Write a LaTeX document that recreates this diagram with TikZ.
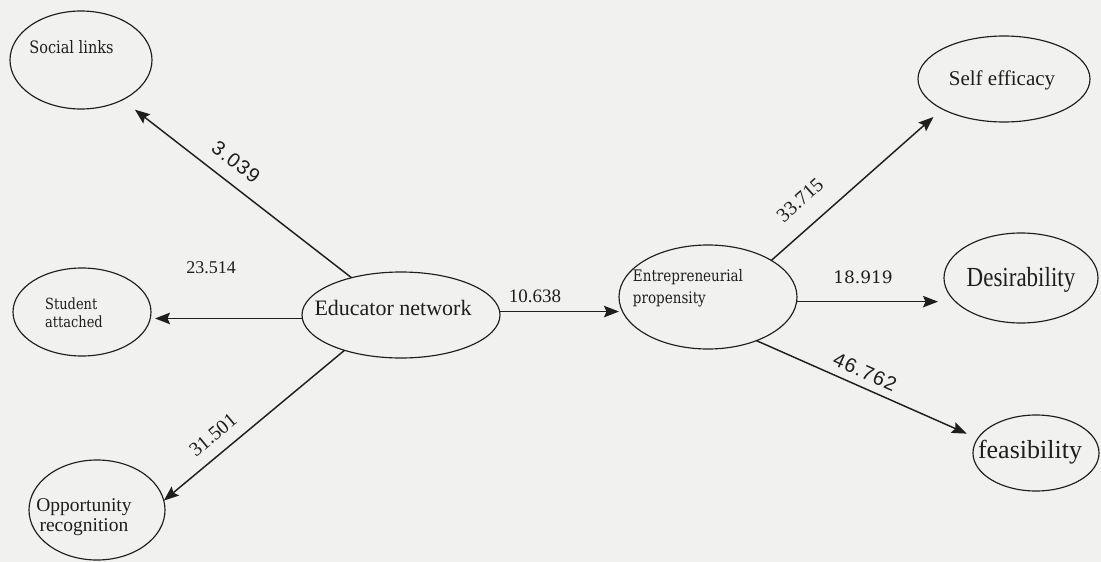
\documentclass[tikz,border=0pt]{standalone}
\usepackage{fontspec}
\usepackage{graphicx}
\setmainfont{Liberation Serif}
\newfontfamily\bookface{DejaVu Serif}
\newfontfamily\numsans[LetterSpace=6]{Liberation Sans}
\usetikzlibrary{shapes.geometric,arrows.meta}
\definecolor{paper}{HTML}{F1F1EF}
\definecolor{ink}{HTML}{1E1E1E}
\tikzset{
  construct/.style={draw=ink, line width=1.15pt, ellipse, inner sep=0pt, outer sep=0pt},
  caption/.style={text=ink, inner sep=0pt, align=center},
  coef/.style={text=ink, inner sep=0pt},
  link/.style={draw=ink, line width=1.45pt, -{Stealth[length=15pt,width=11.5pt,inset=2.5pt]}},
}
% taller lettering for the small construct names
\newcommand{\tallname}[1]{\scalebox{1}[1.18]{#1}}
\begin{document}
\begin{tikzpicture}[x=1pt,y=-1pt]
\path[fill=paper] (0,0) rectangle (1101,562);

% latent constructs
\node[construct, minimum width=142pt, minimum height=98pt]  (social)  at (81,60)   {};
\node[construct, minimum width=138pt, minimum height=88pt]  (student) at (82,312)  {};
\node[construct, minimum width=136pt, minimum height=100pt] (opp)     at (97,510)  {};
\node[construct, minimum width=198pt, minimum height=86pt]  (edu)     at (401,315) {};
\node[construct, minimum width=178pt, minimum height=104pt] (ent)     at (708,297) {};
\node[construct, minimum width=172pt, minimum height=86pt]  (self)    at (1004,79) {};
\node[construct, minimum width=154pt, minimum height=90pt]  (desir)   at (1021,278){};
\node[construct, minimum width=126pt, minimum height=76pt]  (feas)    at (1036,453){};

% construct names
\node[caption, font=\bookface\fontsize{14.5}{17}\selectfont] (socialtext) at (71.5,47) {\tallname{Social links}};
\node[caption, align=left, font=\bookface\fontsize{13}{18}\selectfont] (studenttext) at (74,313) {\tallname{Student}\\\tallname{attached}};
\node[caption, font=\fontsize{19.5}{20}\selectfont] (opptext) at (84,517) {Opportunity\\recognition};
\node[caption, font=\fontsize{22}{24}\selectfont] (edutext) at (393,308) {Educator network};
\node[caption, align=left, font=\bookface\fontsize{13.5}{22}\selectfont] (enttext) at (688,288) {\tallname{Entrepreneurial}\\\tallname{propensity}};
\node[caption, font=\fontsize{21}{24}\selectfont] (selftext) at (1002,80) {Self efficacy};
\node[caption, font=\fontsize{23}{24}\selectfont] (desirtext) at (1021,280) {\scalebox{1}[1.2]{Desirability}};
\node[caption, font=\fontsize{26}{28}\selectfont] (feastext) at (1030,452) {feasibility};

% paths
\draw[link, shorten >=16pt] (edu.143) -- (social.-44);
\draw[link, shorten >=4pt]  (edu.182) -- (edu.182 -| student.east);
\draw[link]                 (edu.212) -- (opp.8);
\draw[link]                 (edu.2.9) -- (edu.2.9 -| ent.west);
\draw[link, shorten >=12pt] (ent.30)  -- (self.206);
\draw[link, shorten >=6pt]  (ent.-3)  -- (ent.-3 -| desir.west);
\draw[link, shorten >=12pt] (ent.-42) -- (feas.166);

% path coefficients
\node[coef, font=\numsans\fontsize{20}{20}\selectfont, rotate=-37.5] (c1) at (236,162) {3.039};
\node[coef, font=\fontsize{18}{18}\selectfont] (c2) at (211,268) {23.514};
\node[coef, font=\fontsize{20}{20}\selectfont, rotate=40] (c3) at (213,435) {31.501};
\node[coef, font=\fontsize{19}{19}\selectfont] (c4) at (535,296) {10.638};
\node[coef, font=\fontsize{20}{20}\selectfont, rotate=42] (c5) at (800,200) {33.715};
\node[coef, font=\bookface\fontsize{17}{17}\selectfont] (c6) at (863,277) {18.919};
\node[coef, font=\numsans\fontsize{20}{20}\selectfont, rotate=-24] (c7) at (865,372) {46.762};
\end{tikzpicture}
\end{document}
